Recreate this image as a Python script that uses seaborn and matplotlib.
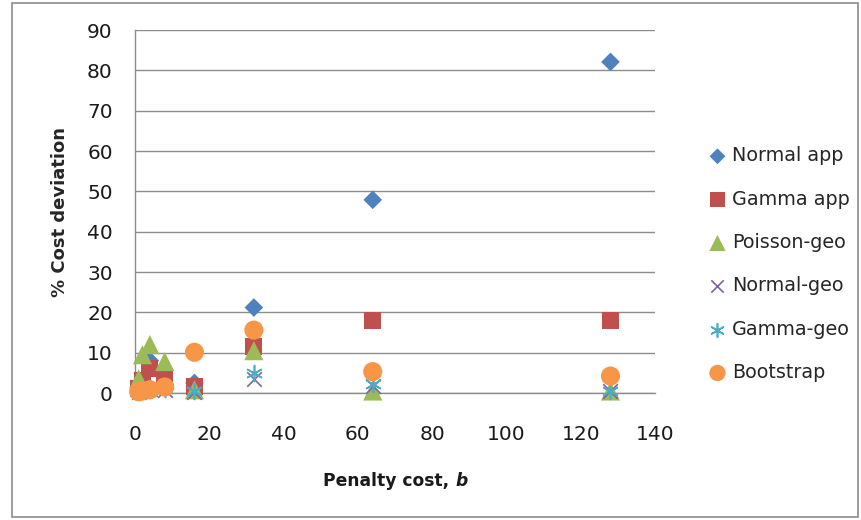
import pandas as pd
import matplotlib
matplotlib.use("Agg")
import matplotlib.pyplot as plt
import seaborn as sns
from matplotlib.patches import Rectangle

# Penalty cost values and % cost deviation per method
b_values = [1, 2, 4, 8, 16, 32, 64, 128]
normal_app = [1.5, 3.0, 8.0, 2.0, 2.5, 21.2, 47.9, 82.1]
gamma_app = [1.0, 3.0, 6.0, 4.2, 1.5, 11.5, 17.9, 18.1]
poisson_geo = [3.5, 9.5, 12.0, 7.8, 0.8, 10.5, 0.5, 0.5]
normal_geo = [0.3, 0.5, 1.0, 0.8, 0.3, 3.5, 1.8, 0.4]
gamma_geo = [0.5, 0.8, 1.2, 1.0, 0.5, 5.0, 2.2, 0.6]
bootstrap = [0.3, 0.5, 0.8, 1.5, 10.1, 15.6, 5.3, 4.2]

series = ["Normal app", "Gamma app", "Poisson-geo", "Normal-geo", "Gamma-geo", "Bootstrap"]
values = [normal_app, gamma_app, poisson_geo, normal_geo, gamma_geo, bootstrap]

colors = ["#4F81BD", "#C0504D", "#9BBB59", "#8064A2", "#4BACC6", "#F79646"]
markers = ["D", "s", "^", "x", (6, 2, 0), "o"]
sizes = [90, 150, 190, 110, 130, 190]

sns.set_style("white")
plt.rcParams["font.family"] = ["DejaVu Sans"]

fig = plt.figure(figsize=(8.61, 5.2), dpi=100)
ax = fig.add_axes([0.1568, 0.2442, 0.604, 0.698])

for name, vals, c, m, s in zip(series, values, colors, markers, sizes):
    df = pd.DataFrame({"b": b_values, "dev": vals})
    if m in ("x", (6, 2, 0)):
        sns.scatterplot(data=df, x="b", y="dev", ax=ax, color=c, marker=m, s=s,
                        linewidth=1.2, label=name, zorder=3, clip_on=False)
    else:
        sns.scatterplot(data=df, x="b", y="dev", ax=ax, color=c, marker=m, s=s,
                        edgecolor="none", label=name, zorder=3, clip_on=False)

ax.set_xlim(0, 140)
ax.set_ylim(0, 90)
ax.set_xticks(range(0, 141, 20))
ax.set_yticks(range(0, 91, 10))
ax.yaxis.grid(True, color="#8C8C8C", linewidth=1)
ax.xaxis.grid(False)
ax.set_axisbelow(True)
for side in ["top", "right"]:
    ax.spines[side].set_visible(False)
for side in ["left", "bottom"]:
    ax.spines[side].set_color("#8C8C8C")
    ax.spines[side].set_linewidth(1)
ax.tick_params(axis="both", length=0, labelsize=14.5, labelcolor="#1A1A1A")
ax.tick_params(axis="y", pad=16)
ax.tick_params(axis="x", pad=23)
ax.set_xlabel("")
ax.set_ylabel("% Cost deviation", fontsize=13, fontweight="bold", labelpad=13)

leg = ax.legend(loc="center left", bbox_to_anchor=(1.05, 0.355), frameon=False,
                fontsize=13.8, labelspacing=1.27, handletextpad=-0.25,
                markerscale=0.85)

# x-axis label: "Penalty cost, " bold plus bold italic "b"
t1 = fig.text(0.375, 0.065, "Penalty cost, ", fontsize=12.3, fontweight="bold",
              color="#1A1A1A")
ax.annotate("b", xy=(1, 0), xycoords=t1, fontsize=12.3, fontweight="bold",
            fontstyle="italic", color="#1A1A1A", va="bottom", ha="left")

# outer chart border
fig.patches.append(Rectangle((12 / 861, 3 / 520), 846 / 861, 514 / 520,
                             transform=fig.transFigure, fill=False,
                             edgecolor="#8C8C8C", linewidth=1.2))

fig.savefig("out.png", dpi=100)
